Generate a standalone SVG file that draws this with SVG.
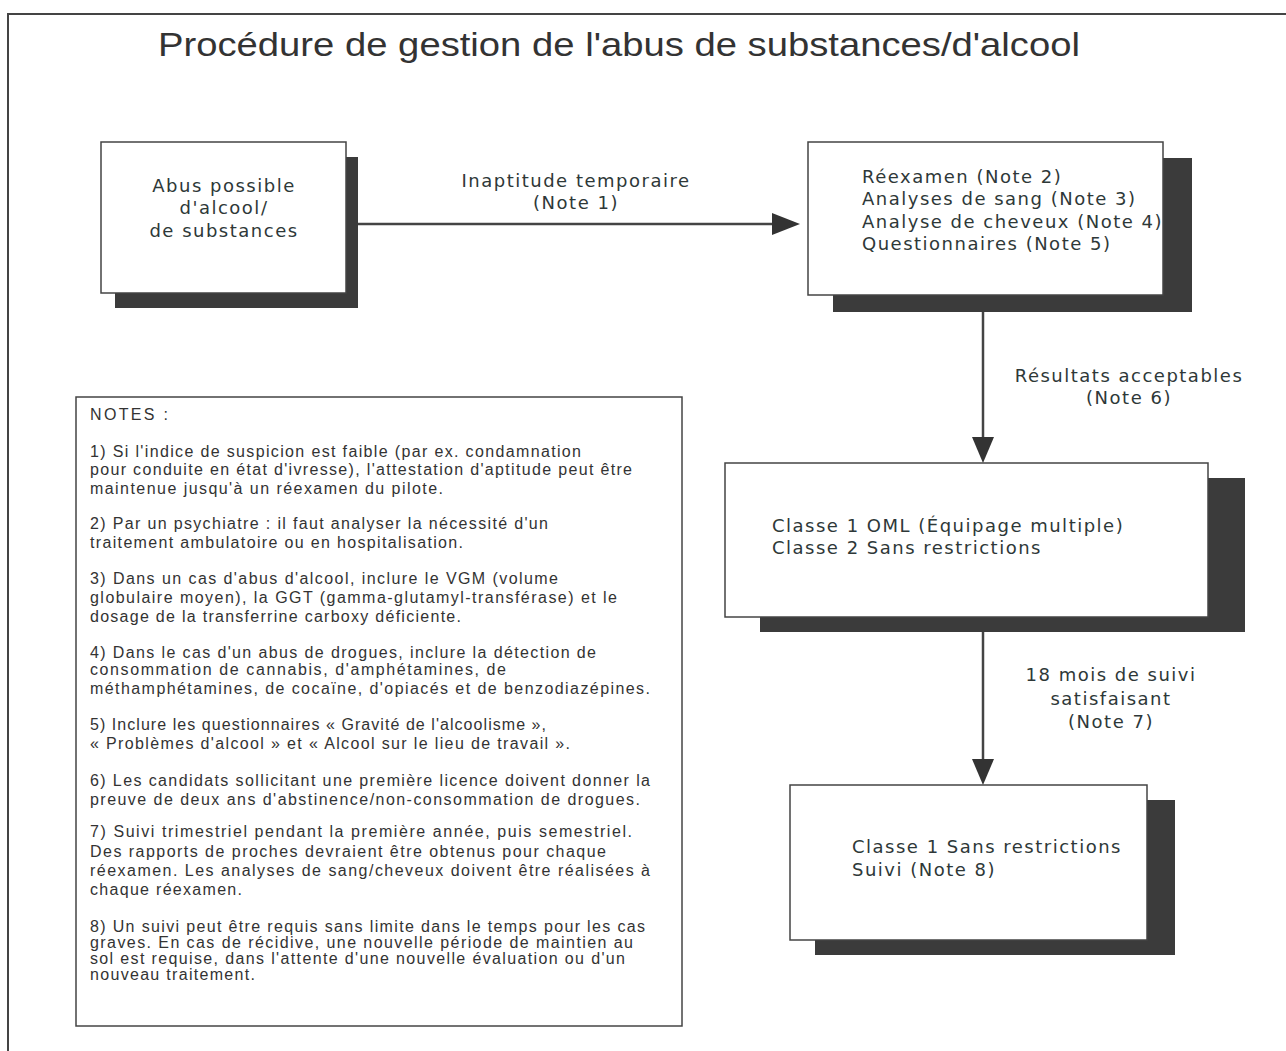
<svg xmlns="http://www.w3.org/2000/svg" width="1286" height="1051" viewBox="0 0 1286 1051">
<defs>
<style>
.frame{fill:none;stroke:#444;stroke-width:2}
.box{fill:#fff;stroke:#444;stroke-width:1.5}
.shadow{fill:#3b3b3b}
.t{font-family:"DejaVu Sans",Verdana,sans-serif;font-size:18px;fill:#2e3838;letter-spacing:1.5px}
.n{font-family:"Liberation Sans",Arial,sans-serif;font-size:16px;fill:#333}
.title{font-family:"Liberation Sans",Arial,sans-serif;font-size:34px;fill:#333}
.conn{stroke:#444;stroke-width:2.5;fill:none}
</style>
</defs>
<rect width="1286" height="1051" fill="#fff"/>
<path class="frame" d="M8,1051 V14 H1286"/>
<text class="title" x="158" y="56" textLength="922" lengthAdjust="spacingAndGlyphs">Procédure de gestion de l'abus de substances/d'alcool</text>

<g id="connectors">
<line class="conn" x1="358" y1="224" x2="775" y2="224"/>
<path d="M772,213 L800,224 L772,235 z" fill="#333"/>
<line class="conn" x1="983" y1="312" x2="983" y2="440"/>
<path d="M972,437 L983,463 L994,437 z" fill="#333"/>
<line class="conn" x1="983" y1="632" x2="983" y2="762"/>
<path d="M972,759 L983,785 L994,759 z" fill="#333"/>
<text class="t" x="576" y="187" text-anchor="middle">Inaptitude temporaire</text>
<text class="t" x="576" y="209" text-anchor="middle">(Note 1)</text>
<text class="t" x="1129" y="382" text-anchor="middle">Résultats acceptables</text>
<text class="t" x="1129" y="404" text-anchor="middle">(Note 6)</text>
<text class="t" x="1111" y="681" text-anchor="middle">18 mois de suivi</text>
<text class="t" x="1111" y="705" text-anchor="middle">satisfaisant</text>
<text class="t" x="1111" y="728" text-anchor="middle">(Note 7)</text>
</g>

<g id="node-abus">
<rect class="shadow" x="115" y="157" width="243" height="151"/>
<rect class="box" x="101" y="142" width="245" height="151"/>
<text class="t" x="224" y="192" text-anchor="middle">Abus possible</text>
<text class="t" x="224" y="214" text-anchor="middle">d'alcool/</text>
<text class="t" x="224" y="237" text-anchor="middle">de substances</text>
</g>

<g id="node-reexamen">
<rect class="shadow" x="833" y="158" width="359" height="154"/>
<rect class="box" x="808" y="142" width="355" height="153"/>
<text class="t" x="862" y="183">Réexamen (Note 2)</text>
<text class="t" x="862" y="205">Analyses de sang (Note 3)</text>
<text class="t" x="862" y="228">Analyse de cheveux (Note 4)</text>
<text class="t" x="862" y="250">Questionnaires (Note 5)</text>
</g>

<g id="node-classe1oml">
<rect class="shadow" x="760" y="478" width="485" height="154"/>
<rect class="box" x="725" y="463" width="483" height="154"/>
<text class="t" x="772" y="532">Classe 1 OML (Équipage multiple)</text>
<text class="t" x="772" y="554">Classe 2 Sans restrictions</text>
</g>

<g id="node-classe1">
<rect class="shadow" x="815" y="800" width="360" height="155"/>
<rect class="box" x="790" y="785" width="357" height="155"/>
<text class="t" x="852" y="853">Classe 1 Sans restrictions</text>
<text class="t" x="852" y="876">Suivi (Note 8)</text>
</g>

<g id="notes">
<rect class="box" x="76" y="397" width="606" height="629"/>
<text class="n" x="90" y="420" textLength="78">NOTES :</text>
<text class="n" x="90" y="457" textLength="491">1) Si l'indice de suspicion est faible (par ex. condamnation</text>
<text class="n" x="90" y="475" textLength="542">pour conduite en état d'ivresse), l'attestation d'aptitude peut être</text>
<text class="n" x="90" y="494" textLength="353">maintenue jusqu'à un réexamen du pilote.</text>
<text class="n" x="90" y="529" textLength="458">2) Par un psychiatre : il faut analyser la nécessité d'un</text>
<text class="n" x="90" y="548" textLength="373">traitement ambulatoire ou en hospitalisation.</text>
<text class="n" x="90" y="584" textLength="468">3) Dans un cas d'abus d'alcool, inclure le VGM (volume</text>
<text class="n" x="90" y="603" textLength="527">globulaire moyen), la GGT (gamma-glutamyl-transférase) et le</text>
<text class="n" x="90" y="622" textLength="371">dosage de la transferrine carboxy déficiente.</text>
<text class="n" x="90" y="658" textLength="506">4) Dans le cas d'un abus de drogues, inclure la détection de</text>
<text class="n" x="90" y="675" textLength="416">consommation de cannabis, d'amphétamines, de</text>
<text class="n" x="90" y="694" textLength="560">méthamphétamines, de cocaïne, d'opiacés et de benzodiazépines.</text>
<text class="n" x="90" y="730" textLength="456">5) Inclure les questionnaires « Gravité de l'alcoolisme »,</text>
<text class="n" x="90" y="749" textLength="480">« Problèmes d'alcool » et « Alcool sur le lieu de travail ».</text>
<text class="n" x="90" y="786" textLength="560">6) Les candidats sollicitant une première licence doivent donner la</text>
<text class="n" x="90" y="805" textLength="550">preuve de deux ans d'abstinence/non-consommation de drogues.</text>
<text class="n" x="90" y="837" textLength="542">7) Suivi trimestriel pendant la première année, puis semestriel.</text>
<text class="n" x="90" y="857" textLength="516">Des rapports de proches devraient être obtenus pour chaque</text>
<text class="n" x="90" y="876" textLength="560">réexamen. Les analyses de sang/cheveux doivent être réalisées à</text>
<text class="n" x="90" y="895" textLength="152">chaque réexamen.</text>
<text class="n" x="90" y="932" textLength="555">8) Un suivi peut être requis sans limite dans le temps pour les cas</text>
<text class="n" x="90" y="948" textLength="543">graves. En cas de récidive, une nouvelle période de maintien au</text>
<text class="n" x="90" y="964" textLength="535">sol est requise, dans l'attente d'une nouvelle évaluation ou d'un</text>
<text class="n" x="90" y="980" textLength="165">nouveau traitement.</text>
</g>
</svg>
